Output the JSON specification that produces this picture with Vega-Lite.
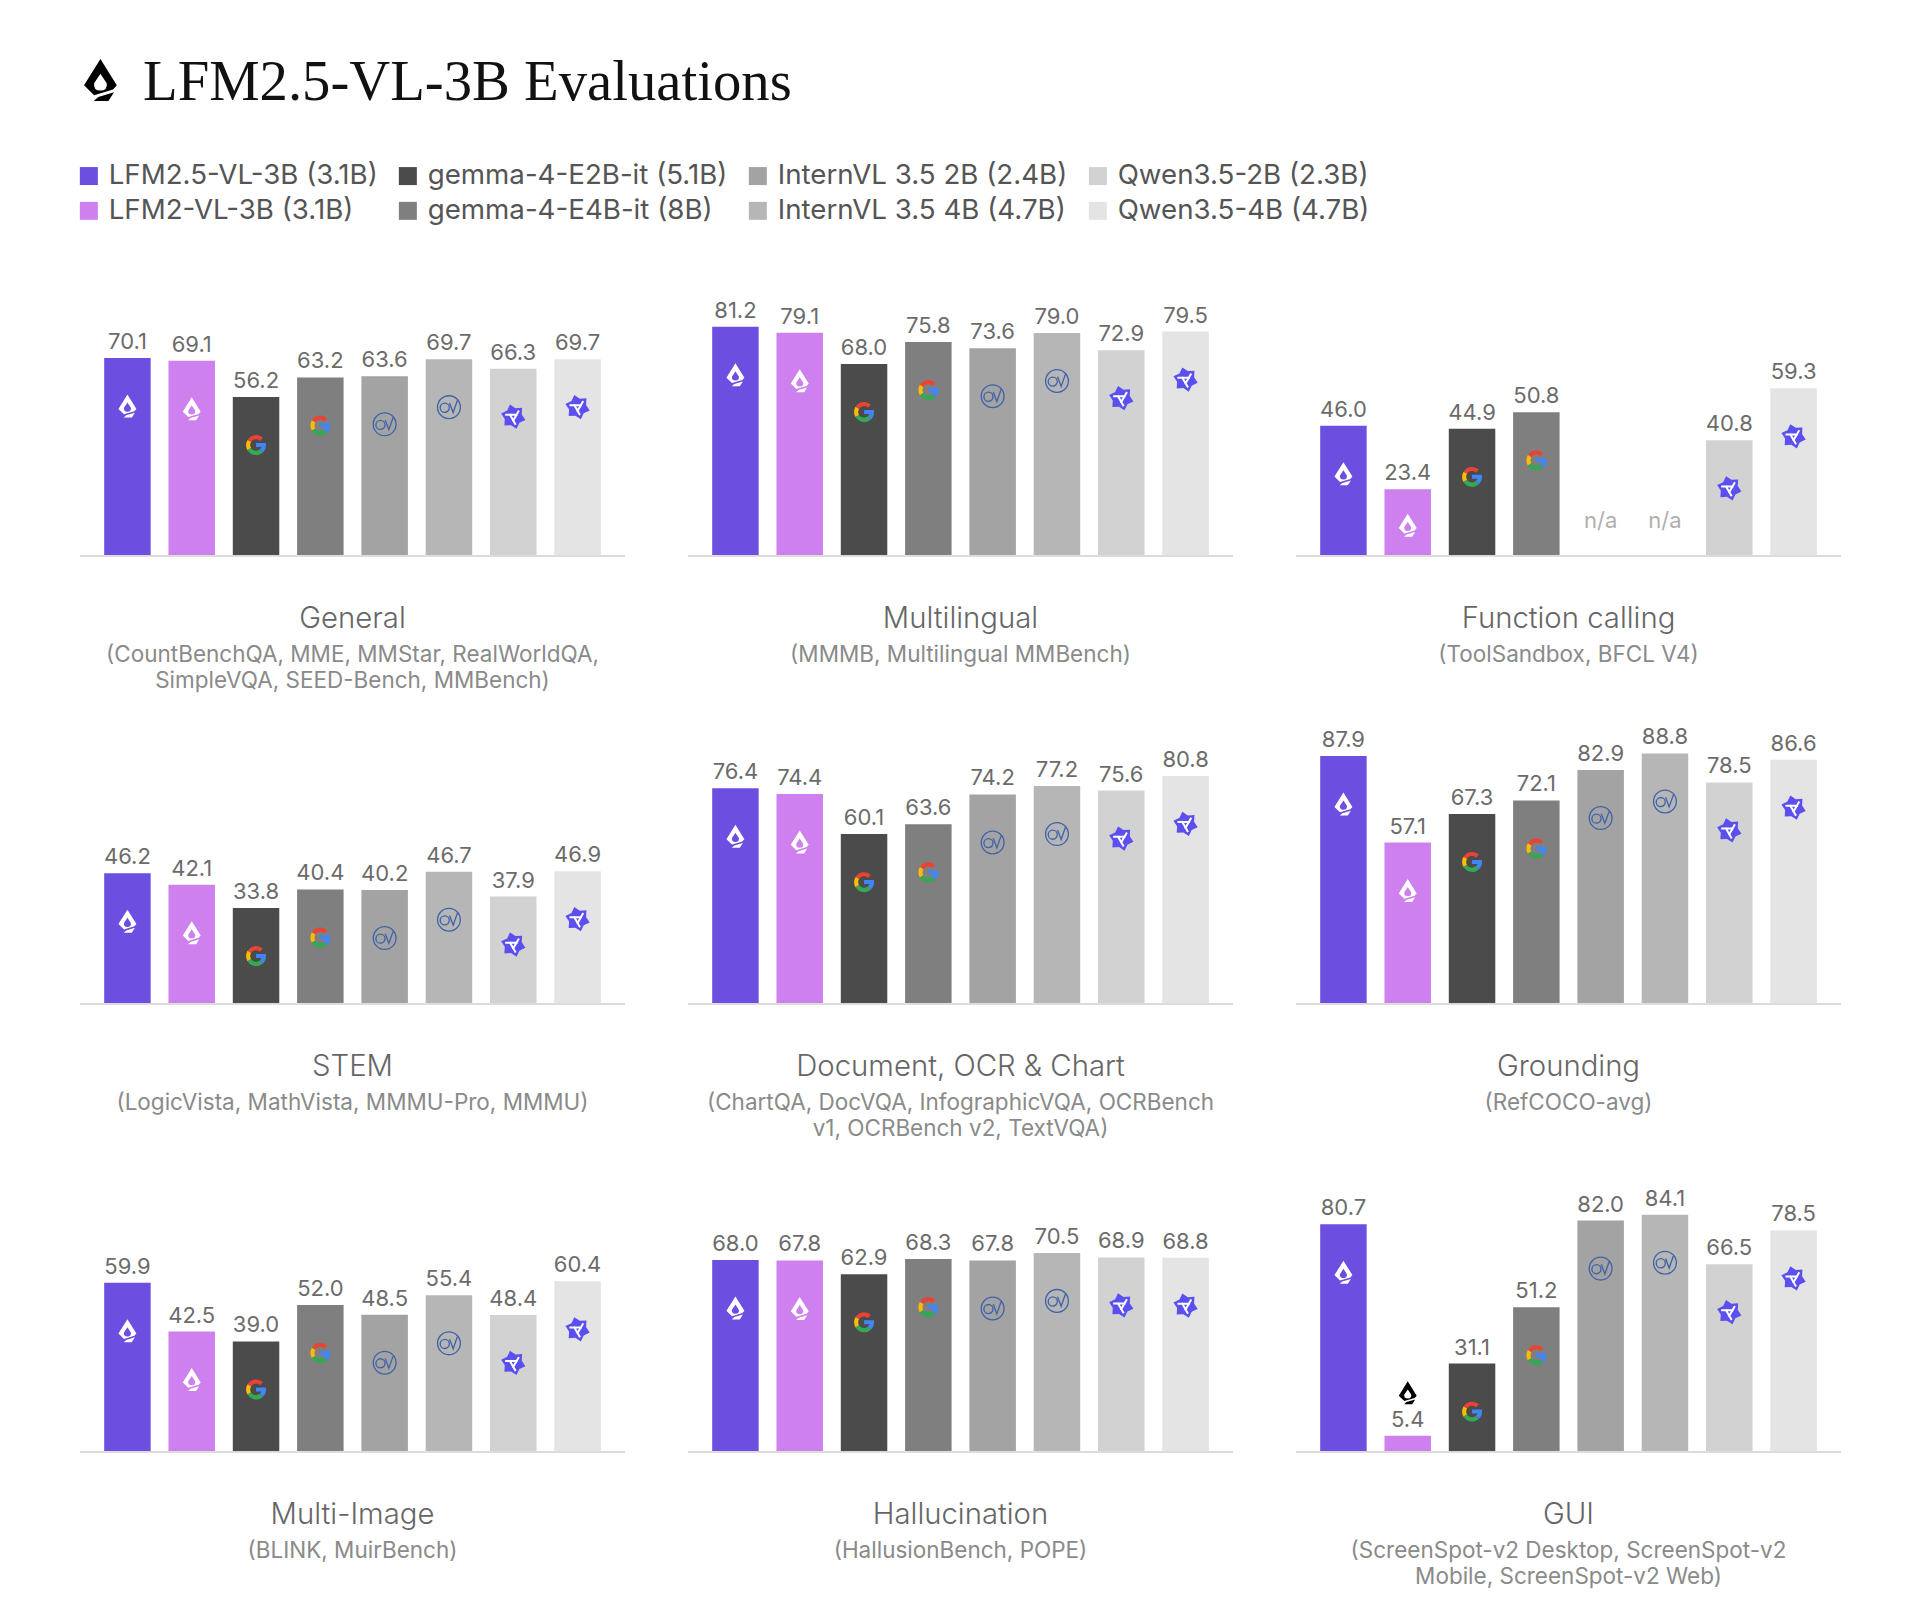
{
  "$schema": "https://vega.github.io/schema/vega-lite/v6.json",
  "title": {"text": "LFM2.5-VL-3B Evaluations", "anchor": "start", "frame": "group", "dx": 63, "offset": -73, "font": "Liberation Serif", "fontSize": 56.7, "fontWeight": "normal", "color": "#111111"},
  "padding": {"left": 75, "top": 39, "right": 20, "bottom": 20},
  "background": "white",
  "config": {"view": {"stroke": null}, "axis": {"disable": true}, "font": "Inter"},
  "datasets": {
    "panels": [
      {"panel": "General", "sources": "(CountBenchQA, MME, MMStar, RealWorldQA,\nSimpleVQA, SEED-Bench, MMBench)"},
      {"panel": "Multilingual", "sources": "(MMMB, Multilingual MMBench)"},
      {"panel": "Function calling", "sources": "(ToolSandbox, BFCL V4)"},
      {"panel": "STEM", "sources": "(LogicVista, MathVista, MMMU-Pro, MMMU)"},
      {"panel": "Document, OCR & Chart", "sources": "(ChartQA, DocVQA, InfographicVQA, OCRBench\nv1, OCRBench v2, TextVQA)"},
      {"panel": "Grounding", "sources": "(RefCOCO-avg)"},
      {"panel": "Multi-Image", "sources": "(BLINK, MuirBench)"},
      {"panel": "Hallucination", "sources": "(HallusionBench, POPE)"},
      {"panel": "GUI", "sources": "(ScreenSpot-v2 Desktop, ScreenSpot-v2\nMobile, ScreenSpot-v2 Web)"}
    ],
    "scores": [
      {"panel": "General", "model": "LFM2.5-VL-3B (3.1B)", "value": 70.1},
      {"panel": "General", "model": "LFM2-VL-3B (3.1B)", "value": 69.1},
      {"panel": "General", "model": "gemma-4-E2B-it (5.1B)", "value": 56.2},
      {"panel": "General", "model": "gemma-4-E4B-it (8B)", "value": 63.2},
      {"panel": "General", "model": "InternVL 3.5 2B (2.4B)", "value": 63.6},
      {"panel": "General", "model": "InternVL 3.5 4B (4.7B)", "value": 69.7},
      {"panel": "General", "model": "Qwen3.5-2B (2.3B)", "value": 66.3},
      {"panel": "General", "model": "Qwen3.5-4B (4.7B)", "value": 69.7},
      {"panel": "Multilingual", "model": "LFM2.5-VL-3B (3.1B)", "value": 81.2},
      {"panel": "Multilingual", "model": "LFM2-VL-3B (3.1B)", "value": 79.1},
      {"panel": "Multilingual", "model": "gemma-4-E2B-it (5.1B)", "value": 68.0},
      {"panel": "Multilingual", "model": "gemma-4-E4B-it (8B)", "value": 75.8},
      {"panel": "Multilingual", "model": "InternVL 3.5 2B (2.4B)", "value": 73.6},
      {"panel": "Multilingual", "model": "InternVL 3.5 4B (4.7B)", "value": 79.0},
      {"panel": "Multilingual", "model": "Qwen3.5-2B (2.3B)", "value": 72.9},
      {"panel": "Multilingual", "model": "Qwen3.5-4B (4.7B)", "value": 79.5},
      {"panel": "Function calling", "model": "LFM2.5-VL-3B (3.1B)", "value": 46.0},
      {"panel": "Function calling", "model": "LFM2-VL-3B (3.1B)", "value": 23.4},
      {"panel": "Function calling", "model": "gemma-4-E2B-it (5.1B)", "value": 44.9},
      {"panel": "Function calling", "model": "gemma-4-E4B-it (8B)", "value": 50.8},
      {"panel": "Function calling", "model": "InternVL 3.5 2B (2.4B)", "value": null},
      {"panel": "Function calling", "model": "InternVL 3.5 4B (4.7B)", "value": null},
      {"panel": "Function calling", "model": "Qwen3.5-2B (2.3B)", "value": 40.8},
      {"panel": "Function calling", "model": "Qwen3.5-4B (4.7B)", "value": 59.3},
      {"panel": "STEM", "model": "LFM2.5-VL-3B (3.1B)", "value": 46.2},
      {"panel": "STEM", "model": "LFM2-VL-3B (3.1B)", "value": 42.1},
      {"panel": "STEM", "model": "gemma-4-E2B-it (5.1B)", "value": 33.8},
      {"panel": "STEM", "model": "gemma-4-E4B-it (8B)", "value": 40.4},
      {"panel": "STEM", "model": "InternVL 3.5 2B (2.4B)", "value": 40.2},
      {"panel": "STEM", "model": "InternVL 3.5 4B (4.7B)", "value": 46.7},
      {"panel": "STEM", "model": "Qwen3.5-2B (2.3B)", "value": 37.9},
      {"panel": "STEM", "model": "Qwen3.5-4B (4.7B)", "value": 46.9},
      {"panel": "Document, OCR & Chart", "model": "LFM2.5-VL-3B (3.1B)", "value": 76.4},
      {"panel": "Document, OCR & Chart", "model": "LFM2-VL-3B (3.1B)", "value": 74.4},
      {"panel": "Document, OCR & Chart", "model": "gemma-4-E2B-it (5.1B)", "value": 60.1},
      {"panel": "Document, OCR & Chart", "model": "gemma-4-E4B-it (8B)", "value": 63.6},
      {"panel": "Document, OCR & Chart", "model": "InternVL 3.5 2B (2.4B)", "value": 74.2},
      {"panel": "Document, OCR & Chart", "model": "InternVL 3.5 4B (4.7B)", "value": 77.2},
      {"panel": "Document, OCR & Chart", "model": "Qwen3.5-2B (2.3B)", "value": 75.6},
      {"panel": "Document, OCR & Chart", "model": "Qwen3.5-4B (4.7B)", "value": 80.8},
      {"panel": "Grounding", "model": "LFM2.5-VL-3B (3.1B)", "value": 87.9},
      {"panel": "Grounding", "model": "LFM2-VL-3B (3.1B)", "value": 57.1},
      {"panel": "Grounding", "model": "gemma-4-E2B-it (5.1B)", "value": 67.3},
      {"panel": "Grounding", "model": "gemma-4-E4B-it (8B)", "value": 72.1},
      {"panel": "Grounding", "model": "InternVL 3.5 2B (2.4B)", "value": 82.9},
      {"panel": "Grounding", "model": "InternVL 3.5 4B (4.7B)", "value": 88.8},
      {"panel": "Grounding", "model": "Qwen3.5-2B (2.3B)", "value": 78.5},
      {"panel": "Grounding", "model": "Qwen3.5-4B (4.7B)", "value": 86.6},
      {"panel": "Multi-Image", "model": "LFM2.5-VL-3B (3.1B)", "value": 59.9},
      {"panel": "Multi-Image", "model": "LFM2-VL-3B (3.1B)", "value": 42.5},
      {"panel": "Multi-Image", "model": "gemma-4-E2B-it (5.1B)", "value": 39.0},
      {"panel": "Multi-Image", "model": "gemma-4-E4B-it (8B)", "value": 52.0},
      {"panel": "Multi-Image", "model": "InternVL 3.5 2B (2.4B)", "value": 48.5},
      {"panel": "Multi-Image", "model": "InternVL 3.5 4B (4.7B)", "value": 55.4},
      {"panel": "Multi-Image", "model": "Qwen3.5-2B (2.3B)", "value": 48.4},
      {"panel": "Multi-Image", "model": "Qwen3.5-4B (4.7B)", "value": 60.4},
      {"panel": "Hallucination", "model": "LFM2.5-VL-3B (3.1B)", "value": 68.0},
      {"panel": "Hallucination", "model": "LFM2-VL-3B (3.1B)", "value": 67.8},
      {"panel": "Hallucination", "model": "gemma-4-E2B-it (5.1B)", "value": 62.9},
      {"panel": "Hallucination", "model": "gemma-4-E4B-it (8B)", "value": 68.3},
      {"panel": "Hallucination", "model": "InternVL 3.5 2B (2.4B)", "value": 67.8},
      {"panel": "Hallucination", "model": "InternVL 3.5 4B (4.7B)", "value": 70.5},
      {"panel": "Hallucination", "model": "Qwen3.5-2B (2.3B)", "value": 68.9},
      {"panel": "Hallucination", "model": "Qwen3.5-4B (4.7B)", "value": 68.8},
      {"panel": "GUI", "model": "LFM2.5-VL-3B (3.1B)", "value": 80.7},
      {"panel": "GUI", "model": "LFM2-VL-3B (3.1B)", "value": 5.4},
      {"panel": "GUI", "model": "gemma-4-E2B-it (5.1B)", "value": 31.1},
      {"panel": "GUI", "model": "gemma-4-E4B-it (8B)", "value": 51.2},
      {"panel": "GUI", "model": "InternVL 3.5 2B (2.4B)", "value": 82.0},
      {"panel": "GUI", "model": "InternVL 3.5 4B (4.7B)", "value": 84.1},
      {"panel": "GUI", "model": "Qwen3.5-2B (2.3B)", "value": 66.5},
      {"panel": "GUI", "model": "Qwen3.5-4B (4.7B)", "value": 78.5}
    ]
  },
  "data": {"name": "scores"},
  "transform": [
    {"lookup": "panel", "from": {"data": {"name": "panels"}, "key": "panel", "fields": ["sources"]}}
  ],
  "bounds": "flush",
  "columns": 3,
  "spacing": {"row": 167, "column": 63},
  "facet": {
    "field": "panel",
    "type": "nominal",
    "header": {"title": null, "labelExpr": "''"},
    "sort": ["General", "Multilingual", "Function calling", "STEM", "Document, OCR & Chart", "Grounding", "Multi-Image", "Hallucination", "GUI"]
  },
  "spec": {
    "width": 545,
    "height": 281,
    "layer": [
      {
        "transform": [{"filter": {"field": "model", "equal": "LFM2.5-VL-3B (3.1B)"}}],
        "layer": [
          {
            "mark": {"type": "rule", "color": "#dcdcdc", "strokeWidth": 2, "yOffset": 1},
            "encoding": {"y": {"datum": 0, "type": "quantitative", "scale": {"domain": [0, 100], "nice": false}}}
          },
          {
            "mark": {"type": "text", "font": "Inter", "fontSize": 29.3, "fontWeight": 300, "color": "#666666", "dy": 73, "baseline": "alphabetic", "align": "center"},
            "encoding": {"y": {"datum": 0, "type": "quantitative"}, "text": {"field": "panel"}}
          },
          {
            "mark": {"type": "text", "font": "Inter", "fontSize": 22.5, "color": "#8a8a8a", "dy": 107, "baseline": "alphabetic", "align": "center", "lineBreak": "\n", "lineHeight": 26},
            "encoding": {"y": {"datum": 0, "type": "quantitative"}, "text": {"field": "sources"}}
          }
        ]
      },
      {
        "transform": [{"filter": {"and": [{"field": "panel", "equal": "Function calling"}, {"field": "model", "oneOf": ["InternVL 3.5 2B (2.4B)", "InternVL 3.5 4B (4.7B)"]}]}}],
        "mark": {"type": "text", "font": "Inter", "fontSize": 22, "color": "#b0b0b0", "baseline": "bottom", "dy": -22},
        "encoding": {
          "x": {"field": "model", "type": "nominal", "scale": {"paddingInner": 0.277, "paddingOuter": 0.376}, "sort": ["LFM2.5-VL-3B (3.1B)", "LFM2-VL-3B (3.1B)", "gemma-4-E2B-it (5.1B)", "gemma-4-E4B-it (8B)", "InternVL 3.5 2B (2.4B)", "InternVL 3.5 4B (4.7B)", "Qwen3.5-2B (2.3B)", "Qwen3.5-4B (4.7B)"]},
          "y": {"datum": 0, "type": "quantitative"},
          "text": {"value": "n/a"}
        }
      },
      {
        "encoding": {
          "x": {"field": "model", "type": "nominal", "scale": {"paddingInner": 0.277, "paddingOuter": 0.376}, "sort": ["LFM2.5-VL-3B (3.1B)", "LFM2-VL-3B (3.1B)", "gemma-4-E2B-it (5.1B)", "gemma-4-E4B-it (8B)", "InternVL 3.5 2B (2.4B)", "InternVL 3.5 4B (4.7B)", "Qwen3.5-2B (2.3B)", "Qwen3.5-4B (4.7B)"]},
          "y": {"field": "value", "type": "quantitative"}
        },
        "layer": [
          {
            "mark": {"type": "bar"},
            "encoding": {
              "color": {
                "field": "model",
                "type": "nominal",
                "scale": {
                  "domain": ["LFM2.5-VL-3B (3.1B)", "LFM2-VL-3B (3.1B)", "gemma-4-E2B-it (5.1B)", "gemma-4-E4B-it (8B)", "InternVL 3.5 2B (2.4B)", "InternVL 3.5 4B (4.7B)", "Qwen3.5-2B (2.3B)", "Qwen3.5-4B (4.7B)"],
                  "range": ["#6c4fe0", "#cd80ee", "#4b4b4b", "#7f7f7f", "#a3a3a3", "#b6b6b6", "#d2d2d2", "#e4e4e4"]
                },
                "legend": {"title": null, "orient": "none", "legendX": -5, "legendY": -112, "columns": 4, "gridAlign": "each", "symbolType": "square", "symbolSize": 324, "symbolStrokeWidth": 0, "labelFont": "Inter", "labelFontSize": 27.7, "labelColor": "#555555", "labelOffset": 6, "columnPadding": 16, "rowPadding": 6, "labelLimit": 400, "padding": 0}
              }
            }
          },
          {
            "mark": {"type": "text", "font": "Inter", "fontSize": 22, "color": "#6b6b6b", "baseline": "bottom", "dy": -4},
            "encoding": {"text": {"field": "value", "type": "quantitative", "format": ".1f"}}
          },
          {
            "transform": [{"filter": {"and": [{"field": "model", "oneOf": ["LFM2.5-VL-3B (3.1B)", "LFM2-VL-3B (3.1B)"]}, {"field": "value", "gte": 25}]}}],
            "mark": {"type": "point", "filled": true, "opacity": 1, "size": 529, "color": "white", "yOffset": 48, "shape": "M0,-1L.78,.25L.6,.45L-.3,.72L-.78,.25ZM0,-.3L-.3,.15Q-.35,.5 0,.5Q.35,.5 .3,.15ZM.65,.58L.38,1L-.32,1L-.1,.8Z"}
          },
          {
            "transform": [{"filter": {"and": [{"field": "model", "equal": "LFM2-VL-3B (3.1B)"}, {"field": "value", "gte": 10}, {"field": "value", "lt": 25}]}}],
            "mark": {"type": "point", "filled": true, "opacity": 1, "size": 529, "color": "white", "yOffset": 36, "shape": "M0,-1L.78,.25L.6,.45L-.3,.72L-.78,.25ZM0,-.3L-.3,.15Q-.35,.5 0,.5Q.35,.5 .3,.15ZM.65,.58L.38,1L-.32,1L-.1,.8Z"}
          },
          {
            "transform": [{"filter": {"and": [{"field": "model", "equal": "LFM2-VL-3B (3.1B)"}, {"field": "value", "lt": 10}]}}],
            "mark": {"type": "point", "filled": true, "opacity": 1, "size": 529, "color": "black", "yOffset": -43, "shape": "M0,-1L.78,.25L.6,.45L-.3,.72L-.78,.25ZM0,-.3L-.3,.15Q-.35,.5 0,.5Q.35,.5 .3,.15ZM.65,.58L.38,1L-.32,1L-.1,.8Z"}
          },
          {
            "transform": [{"filter": {"and": [{"field": "panel", "equal": "General"}, {"field": "model", "equal": "LFM2.5-VL-3B (3.1B)"}]}}],
            "mark": {"type": "point", "filled": true, "opacity": 1, "size": 1764, "color": "black", "xOffset": -27, "shape": "M0,-1L.78,.25L.6,.45L-.3,.72L-.78,.25ZM0,-.3L-.3,.15Q-.35,.5 0,.5Q.35,.5 .3,.15ZM.65,.58L.38,1L-.32,1L-.1,.8Z"},
            "encoding": {"y": {"datum": 169, "type": "quantitative"}}
          },
          {
            "transform": [{"filter": {"field": "model", "oneOf": ["gemma-4-E2B-it (5.1B)", "gemma-4-E4B-it (8B)"]}}],
            "layer": [
              {"mark": {"type": "point", "filled": true, "opacity": 1, "size": 400, "color": "#EA4335", "yOffset": 48, "shape": "M-.85,-.52A1,1 0 0 1 .68,-.73L.4,-.42A.58,.58 0 0 0 -.5,-.3Z"}},
              {"mark": {"type": "point", "filled": true, "opacity": 1, "size": 400, "color": "#FBBC05", "yOffset": 48, "shape": "M-.85,-.52L-.5,-.3A.58,.58 0 0 0 -.5,.3L-.85,.52A1,1 0 0 1 -.85,-.52Z"}},
              {"mark": {"type": "point", "filled": true, "opacity": 1, "size": 400, "color": "#34A853", "yOffset": 48, "shape": "M-.85,.52L-.5,.3A.58,.58 0 0 0 .38,.42L.68,.75A1,1 0 0 1 -.85,.52Z"}},
              {"mark": {"type": "point", "filled": true, "opacity": 1, "size": 400, "color": "#4285F4", "yOffset": 48, "shape": "M.98,-.2L0,-.2L0,.2L.55,.2A.58,.58 0 0 1 .38,.42L.68,.75A1,1 0 0 0 .98,-.2Z"}}
            ]
          },
          {
            "transform": [{"filter": {"field": "model", "oneOf": ["InternVL 3.5 2B (2.4B)", "InternVL 3.5 4B (4.7B)"]}}],
            "mark": {"type": "point", "filled": false, "opacity": 1, "size": 576, "color": "#3f62a8", "strokeWidth": 1.3, "yOffset": 48, "shape": "M-.95,0A.95,.95 0 1 1 .95,0A.95,.95 0 1 1 -.95,0ZM-.73,.05A.38,.38 0 1 1 .03,.05A.38,.38 0 1 1 -.73,.05ZM.05,-.35L.35,.45L.7,-.55"}
          },
          {
            "transform": [{"filter": {"field": "model", "oneOf": ["Qwen3.5-2B (2.3B)", "Qwen3.5-4B (4.7B)"]}}],
            "layer": [
              {"mark": {"type": "point", "filled": true, "opacity": 1, "size": 625, "color": "#5b4ff0", "yOffset": 48, "shape": "M-.26,-.97L.18,-.68L.71,-.71L.68,-.18L.97,.26L.49,.49L.26,.97L-.18,.68L-.71,.71L-.68,.18L-.97,-.26L-.49,-.49Z"}},
              {"mark": {"type": "point", "filled": false, "opacity": 1, "size": 625, "color": "white", "strokeWidth": 2, "yOffset": 48, "shape": "M-.65,-.15L.35,-.15M.455,-.488L-.045,.378M.195,.638L-.305,-.228"}}
            ]
          }
        ]
      }
    ]
  }
}
